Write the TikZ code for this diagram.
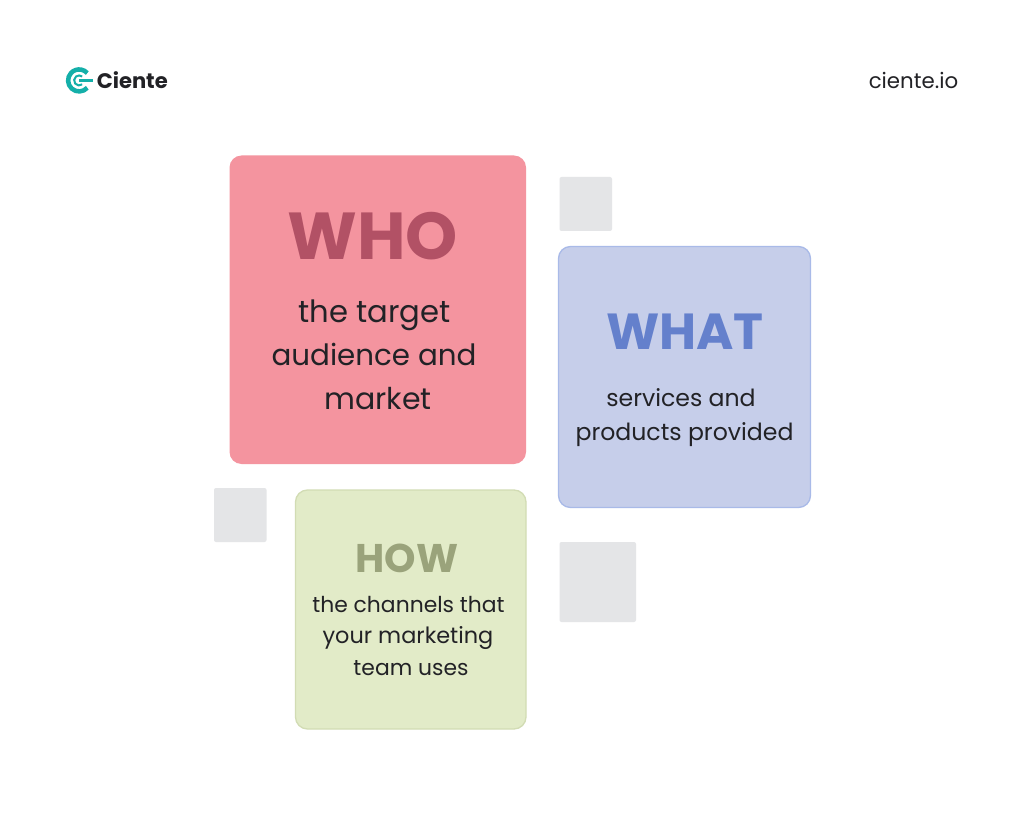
\documentclass[tikz,border=0pt]{standalone}
\usepackage{fontspec}
\setmainfont{Poppins}
\definecolor{whofill}{HTML}{F4949F}
\definecolor{whotext}{HTML}{B25165}
\definecolor{whatfill}{HTML}{C6CEEA}
\definecolor{whatline}{HTML}{A9BAE8}
\definecolor{whattext}{HTML}{6480CC}
\definecolor{howfill}{HTML}{E2EBC8}
\definecolor{howline}{HTML}{D2DCB4}
\definecolor{howtext}{HTML}{9AA37B}
\definecolor{greybox}{HTML}{E4E5E7}
\definecolor{logoteal}{HTML}{14AFA9}
\definecolor{inktext}{HTML}{222226}
\tikzset{
  card/.style={rounded corners=9pt},
  spare/.style={fill=greybox,rounded corners=1.5pt},
  head/.style={inner sep=0pt,anchor=base,font=\fontsize{#1}{#1}\selectfont\bfseries},
  body/.style={inner sep=0pt,anchor=base,text=inktext,font=\fontsize{#1}{#1}\selectfont}
}
\begin{document}
\begin{tikzpicture}[x=0.75pt,y=-0.75pt]
	\useasboundingbox (0,0) rectangle (1024,827);
	\fill[white] (0,0) rectangle (1024,827);
	% cards
	\fill[card,whofill] (229.5,155.5) rectangle (526,464);
	\draw[card,fill=whatfill,draw=whatline,line width=1pt] (558.5,246.5) rectangle (810.5,507.5);
	\draw[card,fill=howfill,draw=howline,line width=1pt] (295.5,490) rectangle (526,729);
	% spare squares
	\fill[spare] (559.5,177) rectangle (612,231);
	\fill[spare] (214,488) rectangle (266.5,542);
	\fill[spare] (559.5,542) rectangle (636,622);
	% logo
	\draw[logoteal,line width=3.4pt] (87.3,87.8) arc (42:318:11);
	\draw[logoteal,line width=1.5pt] (82.2,84.4) arc (52:308:5);
	\fill[logoteal] (79,79.4) rectangle (93,81.6);
	\node[head=15.8,text=inktext,anchor=base west] (brand) at (96.5,88.3) {Ciente};
	\node[body=16] (site) at (913.5,88.5) {ciente.io};
	% who
	\node[head=49.8,text=whotext] (who) at (372.5,259.3) {WHO};
	\node[body=23] (who1) at (374.5,322.5) {the target};
	\node[body=22] (who2) at (374,365.7) {audience and};
	\node[body=22.5] (who3) at (378,409) {market};
	% what
	\node[head=38,text=whattext] (what) at (685,349) {WHAT};
	\node[body=17.7] (what1) at (681,406.7) {services and};
	\node[body=17.7] (what2) at (684.5,440) {products provided};
	% how
	\node[head=30,text=howtext] (how) at (407,572.3) {HOW};
	\node[body=16.4] (how1) at (408.5,612.7) {the channels that};
	\node[body=16.8] (how2) at (408,643.5) {your marketing};
	\node[body=16.4] (how3) at (411,675.5) {team uses};
\end{tikzpicture}
\end{document}
